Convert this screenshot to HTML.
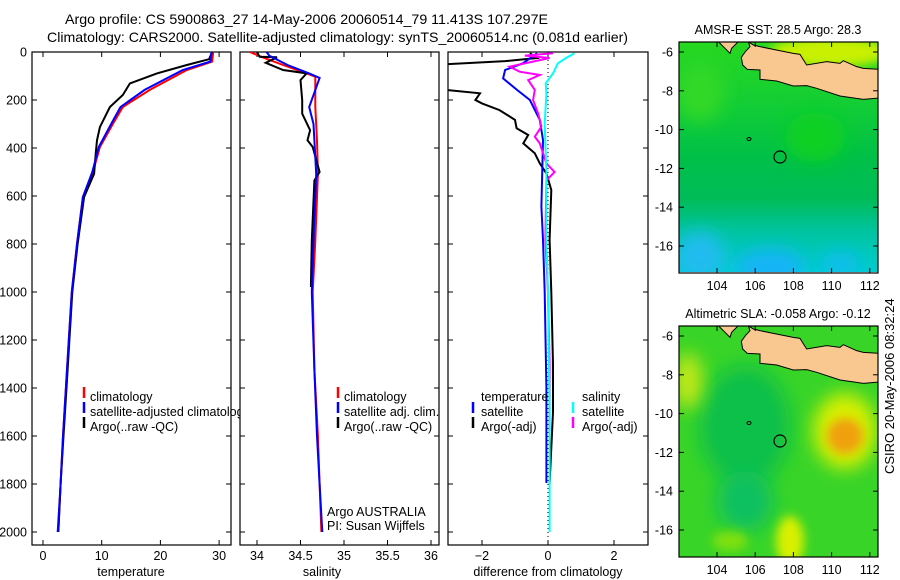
<!DOCTYPE html>
<html><head><meta charset="utf-8">
<style>
html,body{margin:0;padding:0;background:#fff;}
svg{display:block;font-family:"Liberation Sans","DejaVu Sans",sans-serif;}
text{fill:#000;}
</style></head>
<body>
<svg id="chart" width="900" height="580" viewBox="0 0 900 580" xmlns="http://www.w3.org/2000/svg">
<defs>
<clipPath id="c1"><rect x="32" y="52" width="199" height="493"/></clipPath>
<clipPath id="c2"><rect x="240" y="52" width="199" height="493"/></clipPath>
<clipPath id="c3"><rect x="448" y="52" width="200" height="493"/></clipPath>
<clipPath id="m1"><rect x="679" y="42" width="199" height="230"/></clipPath>
<clipPath id="m2"><rect x="679" y="326" width="199" height="231"/></clipPath>
<clipPath id="leg1"><rect x="32" y="380" width="208" height="60"/></clipPath>
<filter id="bl" x="-50%" y="-50%" width="200%" height="200%"><feGaussianBlur stdDeviation="9"/></filter>
<filter id="bl2" x="-50%" y="-50%" width="200%" height="200%"><feGaussianBlur stdDeviation="5"/></filter>
<linearGradient id="g1" x1="0" y1="0" x2="0" y2="1">
<stop offset="0" stop-color="#28d820"/><stop offset="0.3" stop-color="#10cc38"/>
<stop offset="0.5" stop-color="#00c048"/><stop offset="0.68" stop-color="#00bc58"/>
<stop offset="0.82" stop-color="#00c4a0"/><stop offset="1" stop-color="#00ccd0"/></linearGradient>
</defs>

<text x="65" y="24" font-size="14" textLength="483" lengthAdjust="spacingAndGlyphs">Argo profile: CS 5900863_27 14-May-2006 20060514_79 11.413S 107.297E</text>
<text x="47" y="42" font-size="14" textLength="581" lengthAdjust="spacingAndGlyphs">Climatology: CARS2000. Satellite-adjusted climatology: synTS_20060514.nc (0.081d earlier)</text>

<g id="panels"></g>
<g id="maps"></g>
<text transform="translate(894,474) rotate(-90)" font-size="13">CSIRO 20-May-2006 08:32:24</text>
</svg>
<script>
// ---------- data ----------
const depthTicks = [0,200,400,600,800,1000,1200,1400,1600,1800,2000];
const tempTicks = [0,10,20,30];
const salTicks = [34,34.5,35,35.5,36];
const salTickLabels = ["34","34.5","35","35.5","36"];
const diffTicks = [-2,0,2];

const tClimD = [0,40,75,158,229,296,396,500,604,800,1000,1200,1400,1600,1800,2000];
const tClimV = [29.0,28.8,24.5,18.2,13.6,12.0,9.7,8.5,6.8,5.8,4.9,4.4,3.9,3.4,3.0,2.6];
const tSatD = [0,40,75,158,229,296,396,500,604,800,1000,1200,1400,1600,1800,2000];
const tSatV = [28.7,28.5,23.8,17.3,13.2,11.7,9.5,8.4,6.8,5.8,4.9,4.4,3.9,3.4,3.0,2.5];
const tArgoD = [0,30,54,89,131,179,229,313,368,420,507,604,800,1000,1200,1400,1600,1800,2000];
const tArgoV = [28.8,28.3,24.5,19.4,14.8,13.6,11.4,9.7,9.2,9.0,8.7,7.0,5.9,5.0,4.5,4.0,3.5,3.0,2.6];

const sClimD = [0,20,54,89,103,229,368,507,785,1000,1325,1600,1800,2000];
const sClimV = [33.92,34.05,34.30,34.57,34.67,34.67,34.69,34.70,34.67,34.64,34.66,34.70,34.72,34.74];
const sSatD = [0,15,54,89,108,229,300,507,785,1000,1325,1600,1800,2000];
const sSatV = [34.11,34.14,34.35,34.60,34.72,34.60,34.65,34.68,34.65,34.63,34.66,34.69,34.72,34.75];
const sArgoD = [0,20,22,45,75,89,117,201,257,326,368,396,500,535,785,979];
const sArgoV = [34.0,34.03,34.23,34.10,34.30,34.57,34.50,34.52,34.52,34.61,34.58,34.64,34.72,34.66,34.63,34.62];

const dTSatD = [5,47,75,110,158,200,283,367,644,783,1000,1400,1796];
const dTSatV = [-0.33,-0.76,-1.30,-1.36,-0.94,-0.55,-0.25,-0.15,-0.20,-0.15,-0.10,-0.05,-0.05];
const dTArgoD = [5,25,38,51,158,172,200,214,242,283,318,346,381,422,464,506,575,783,1000,1300,1500,1800];
const dTArgoV = [-0.55,-0.33,-1.30,-3.10,-3.10,-2.06,-2.20,-2.00,-1.47,-1.00,-0.95,-0.60,-0.75,-0.40,-0.25,-0.05,0.10,0.05,0.10,0.15,0.15,0.05];
const dSSatD = [5,25,47,89,131,172,300,500,783,1000,1500,2000];
const dSSatV = [0.80,0.55,0.30,0.15,-0.07,-0.05,-0.10,-0.05,-0.05,0.00,0.05,0.05];
const dSArgoD = [5,15,25,61,82,96,117,158,200,256,311,353,381,464,500,535,783,1000,1300,1580];
const dSArgoV = [0.15,-0.70,0.05,-1.16,-0.86,-0.25,-0.60,-0.40,-0.45,-0.30,-0.20,-0.40,-0.25,-0.05,0.20,-0.05,-0.08,0.00,0.05,0.05];

const lonTicks = [104,106,108,110,112];
const latTicks = [-6,-8,-10,-12,-14,-16];
// ---------- scales ----------
const NS="http://www.w3.org/2000/svg";
const yD = d => 52 + d*0.24;
const xT = t => 43 + t*5.87;
const xS = s => 257 + (s-34)*87;
const xDf = v => 548 + v*33;

function mk(tag, attrs, parent){const e=document.createElementNS(NS,tag);for(const k in attrs)e.setAttribute(k,attrs[k]);parent.appendChild(e);return e;}
const P=document.getElementById('panels');

function line(ds, vs, xf, color, clip, name){
  const pts = ds.map((d,i)=>xf(vs[i]).toFixed(1)+','+yD(d).toFixed(1)).join(' ');
  const e = mk('polyline',{points:pts,fill:'none',stroke:color,'stroke-width':2,'clip-path':'url(#'+clip+')'},P);
  
  
}
function frame(x0,x1,name){
  const r=mk('rect',{x:x0,y:52,width:x1-x0,height:493,fill:'none',stroke:'#000','stroke-width':1.2},P);
  
  
  depthTicks.forEach(d=>{const y=yD(d);
    mk('line',{x1:x0,x2:x0+5,y1:y,y2:y,stroke:'#000'},P);
    mk('line',{x1:x1-5,x2:x1,y1:y,y2:y,stroke:'#000'},P);});
}
function xticks(ticks,labels,xf,name){
  ticks.forEach((t,i)=>{const x=xf(t);
    mk('line',{x1:x,x2:x,y1:545,y2:540,stroke:'#000'},P);
    mk('line',{x1:x,x2:x,y1:52,y2:57,stroke:'#000'},P);
    const tx=mk('text',{x:x,y:560,'font-size':12.5,'text-anchor':'middle'},P);tx.textContent=labels[i];
    
    
  });
}
function txt(x,y,s,name,anchor){const t=mk('text',{x:x,y:y,'font-size':12.5,'text-anchor':anchor||'start'},P);t.textContent=s;
  
  return t;}
function lmark(x,y,color){mk('line',{x1:x,x2:x,y1:y-10,y2:y+1,stroke:color,'stroke-width':2.5},P);}

// panel 1
frame(32,231,'temperature-panel');
depthTicks.forEach(d=>txt(27,yD(d)+4.5,String(d),'depth-tick-label','end'));
xticks(tempTicks,tempTicks.map(String),xT,'temperature-tick-label');
txt(131,576,'temperature','x-axis-title-temperature','middle');
line(tClimD,tClimV,xT,'#f00','c1','temp-climatology-line');
line(tArgoD,tArgoV,xT,'#000','c1','temp-argo-line');
line(tSatD,tSatV,xT,'#00f','c1','temp-satellite-line');
lmark(84,397,'#f00');txt(90,401,'climatology','legend-climatology');
lmark(84,412,'#00f');txt(90,416,'satellite-adjusted climatology','legend-satellite-adjusted').setAttribute('clip-path','url(#leg1)');
lmark(84,427,'#000');txt(90,431,'Argo(..raw -QC)','legend-argo');

// panel 2
frame(240,439,'salinity-panel');
xticks(salTicks,salTickLabels,xS,'salinity-tick-label');
txt(322,576,'salinity','x-axis-title-salinity','middle');
line(sClimD,sClimV,xS,'#f00','c2','sal-climatology-line');
line(sArgoD,sArgoV,xS,'#000','c2','sal-argo-line');
line(sSatD,sSatV,xS,'#00f','c2','sal-satellite-line');
lmark(338,397,'#f00');txt(344,401,'climatology','legend-climatology');
lmark(338,412,'#00f');txt(344,416,'satellite adj. clim.','legend-satellite-adj');
lmark(338,427,'#000');txt(344,431,'Argo(..raw -QC)','legend-argo');
txt(327,516,'Argo AUSTRALIA','argo-australia-label');
txt(327,530,'PI: Susan Wijffels','pi-label');

// panel 3
frame(448,648,'difference-panel');
xticks(diffTicks,diffTicks.map(v=>v<0?'\u2212'+Math.abs(v):String(v)),xDf,'difference-tick-label');
txt(548,576,'difference from climatology','x-axis-title-difference','middle');
mk('line',{x1:548,x2:548,y1:52,y2:545,stroke:'#000','stroke-dasharray':'1,3'},P);
line(dTArgoD,dTArgoV,xDf,'#000','c3','diff-temp-argo-line');
line(dTSatD,dTSatV,xDf,'#00f','c3','diff-temp-satellite-line');
line(dSArgoD,dSArgoV,xDf,'#f0f','c3','diff-sal-argo-line');
line(dSSatD,dSSatV,xDf,'#0ff','c3','diff-sal-satellite-line');
txt(481,401,'temperature','legend-temperature-header');
lmark(473,412,'#00f');txt(481,416,'satellite','legend-temp-satellite');
lmark(473,427,'#000');txt(481,431,'Argo(-adj)','legend-temp-argo');
txt(582,401,'salinity','legend-salinity-header');
lmark(573,412,'#0ff');txt(582,416,'satellite','legend-sal-satellite');
lmark(573,427,'#f0f');txt(582,431,'Argo(-adj)','legend-sal-argo');

// ---------- maps ----------
const M=document.getElementById('maps');
const landJava="265,65 280,75 300,80 340,88 400,100 420,103 440,135 500,125 540,130 550,122 590,140 610,145 660,148 660,234 610,238 540,228 470,205 440,197 400,198 350,183 300,178 300,150 262,148 248,135 244,112 256,95 270,80";
const landSum="175,65 235,65 215,85 210,100 195,85";
function map(top, kind, title){
  const off = top-42;
  const g=mk('g',{},M);
  
  
  const cl = kind==='sst'?'m1':'m2';
  const c=mk('g',{'clip-path':'url(#'+cl+')'},g);
  if(kind==='sst'){
    mk('rect',{x:679,y:top,width:199,height:231,fill:'url(#g1)'},c);
    mk('ellipse',{cx:830,cy:top+10,rx:60,ry:16,fill:'#c8f000',filter:'url(#bl2)'},c);
    mk('ellipse',{cx:798,cy:top+30,rx:8,ry:6,fill:'#f0a000',filter:'url(#bl2)'},c);
    mk('ellipse',{cx:700,cy:top+50,rx:25,ry:30,fill:'#30d828',filter:'url(#bl)'},c);
    mk('ellipse',{cx:815,cy:top+95,rx:30,ry:25,fill:'#08d020',filter:'url(#bl)'},c);
    mk('ellipse',{cx:770,cy:top+225,rx:35,ry:18,fill:'#18b4f8',filter:'url(#bl)'},c);
    mk('ellipse',{cx:700,cy:top+215,rx:25,ry:25,fill:'#20bcf0',filter:'url(#bl)'},c);
    mk('ellipse',{cx:840,cy:top+222,rx:20,ry:12,fill:'#10bcf0',filter:'url(#bl)'},c);
  } else {
    mk('rect',{x:679,y:top,width:199,height:231,fill:'#38d428'},c);
    mk('ellipse',{cx:745,cy:top+100,rx:45,ry:60,fill:'#10c048',filter:'url(#bl)'},c);
    mk('ellipse',{cx:745,cy:top+175,rx:28,ry:30,fill:'#10c060',filter:'url(#bl)'},c);
    mk('ellipse',{cx:688,cy:top+55,rx:14,ry:28,fill:'#c8e818',filter:'url(#bl)'},c);
    mk('ellipse',{cx:845,cy:top+105,rx:32,ry:38,fill:'#d8f000',filter:'url(#bl)'},c);
    mk('ellipse',{cx:845,cy:top+110,rx:18,ry:18,fill:'#f0a010',filter:'url(#bl2)'},c);
    mk('ellipse',{cx:790,cy:top+215,rx:14,ry:25,fill:'#d8f000',filter:'url(#bl2)'},c);
    mk('ellipse',{cx:730,cy:top+215,rx:18,ry:10,fill:'#80e010',filter:'url(#bl2)'},c);
  }
  const lg=mk('g',{transform:'translate(660,'+(20+off)+') scale(0.3333)'},c);
  mk('polygon',{points:landJava,fill:'#f8c890',stroke:'#000','stroke-width':3},lg);
  mk('polygon',{points:landSum,fill:'#f8c890',stroke:'#000','stroke-width':3},lg);
  mk('ellipse',{cx:749,cy:top+97,rx:2,ry:1.5,fill:'none',stroke:'#000'},c);
  const cir=mk('circle',{cx:780,cy:top+115,r:6,fill:'none',stroke:'#000','stroke-width':1.2},c);
  
  
  mk('rect',{x:679,y:top,width:199,height:231,fill:'none',stroke:'#000','stroke-width':1.2},g);
  const xL = lon => 717 + (lon-104)*19.1;
  const yL = lat => top+10 + (-6-lat)*19.4;
  lonTicks.forEach(l=>{const x=xL(l);
    mk('line',{x1:x,x2:x,y1:top,y2:top+5,stroke:'#000'},g);
    mk('line',{x1:x,x2:x,y1:top+231,y2:top+226,stroke:'#000'},g);
    const t=mk('text',{x:x,y:top+248,'font-size':12.5,'text-anchor':'middle'},g);t.textContent=String(l);
    
    });
  latTicks.forEach(l=>{const y=yL(l);
    mk('line',{x1:679,x2:684,y1:y,y2:y,stroke:'#000'},g);
    mk('line',{x1:873,x2:878,y1:y,y2:y,stroke:'#000'},g);
    const t=mk('text',{x:673,y:y+4.5,'font-size':12.5,'text-anchor':'end'},g);t.textContent='-'+Math.abs(l);
    
    });
  const tt=mk('text',{x:778,y:top-8,'font-size':12.5,'text-anchor':'middle'},g);tt.textContent=title;
  
  
}
map(42,'sst','AMSR-E SST: 28.5 Argo: 28.3');
map(326,'sla','Altimetric SLA: -0.058 Argo: -0.12');
</script>
</body></html>
